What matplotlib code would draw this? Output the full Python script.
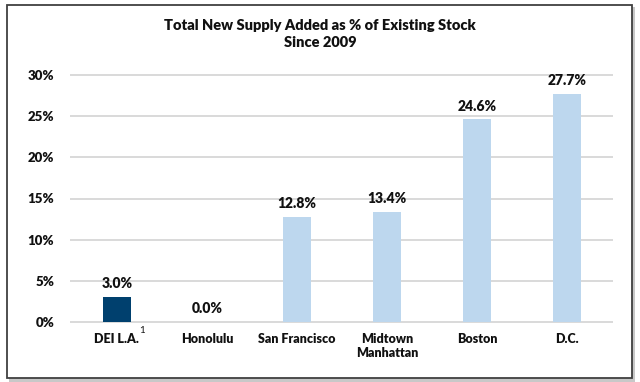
import matplotlib.pyplot as plt
from matplotlib.patches import Rectangle
from matplotlib.ticker import FuncFormatter

plt.rcParams['font.family'] = ['Lato', 'DejaVu Sans']

# data
markets = ['DEI L.A.', 'Honolulu', 'San Francisco', 'Midtown\nManhattan', 'Boston', 'D.C.']
supply_pct = [3.0, 0.0, 12.8, 13.4, 24.6, 27.7]
bar_colors = ['#00406e', '#bdd7ee', '#bdd7ee', '#bdd7ee', '#bdd7ee', '#bdd7ee']
y_ticks = [0, 5, 10, 15, 20, 25, 30]

W = 'heavy'

fig = plt.figure(figsize=(6.4, 3.82), dpi=100)

# frame with a little shadow around the whole chart
fig.patches.append(Rectangle((9 / 640, 0.0), 626 / 640, 1 - 7 / 382,
                             transform=fig.transFigure, facecolor='#c8c8c8',
                             edgecolor='none', zorder=0))
fig.patches.append(Rectangle((7 / 640, 4 / 382), 625 / 640, 1 - 9 / 382,
                             transform=fig.transFigure, facecolor='white',
                             edgecolor='#404040', linewidth=1.3, zorder=1))

ax = fig.add_axes([71 / 640, 1 - 322 / 382, 541 / 640, (322 - 75) / 382])
ax.set_zorder(2)
ax.patch.set_visible(False)

x = range(len(markets))
bars = ax.bar(x, supply_pct, width=0.31, color=bar_colors, zorder=3)

for xi, v in zip(x, supply_pct):
    ax.annotate(f'{v:.1f}%', (xi, v), xytext=(0, 5), textcoords='offset points',
                ha='center', va='bottom', fontsize=10, fontweight=W,
                color='#111111')

ax.set_xlim(-0.51, 5.5)
ax.set_ylim(0, 30)
ax.set_yticks(y_ticks)
ax.yaxis.set_major_formatter(FuncFormatter(lambda v, p: f'{v:.0f}%'))
ax.set_xticks(list(x))
ax.set_xticklabels(markets)
for lab in ax.get_xticklabels() + ax.get_yticklabels():
    lab.set_fontweight(W)
    lab.set_color('#111111')
ax.tick_params(axis='x', length=0, pad=8, labelsize=9)
ax.tick_params(axis='y', length=0, pad=12, labelsize=9.5)

for v in y_ticks:
    ax.axhline(v, color='#d9d9d9', linewidth=1.4, zorder=1, clip_on=False)
for s in ax.spines.values():
    s.set_visible(False)

# footnote marker on the first label
ax.annotate('1', (0, 0), xytext=(16, -6), textcoords='offset points',
            fontsize=7, color='#111111', ha='left', va='center')

fig.text(320 / 640, 1 - 34 / 382,
         'Total New Supply Added as % of Existing Stock\nSince 2009',
         ha='center', va='center', fontsize=10.5, fontweight=W,
         color='#111111', linespacing=1.35, zorder=3)

fig.savefig('out.png', dpi=100)
